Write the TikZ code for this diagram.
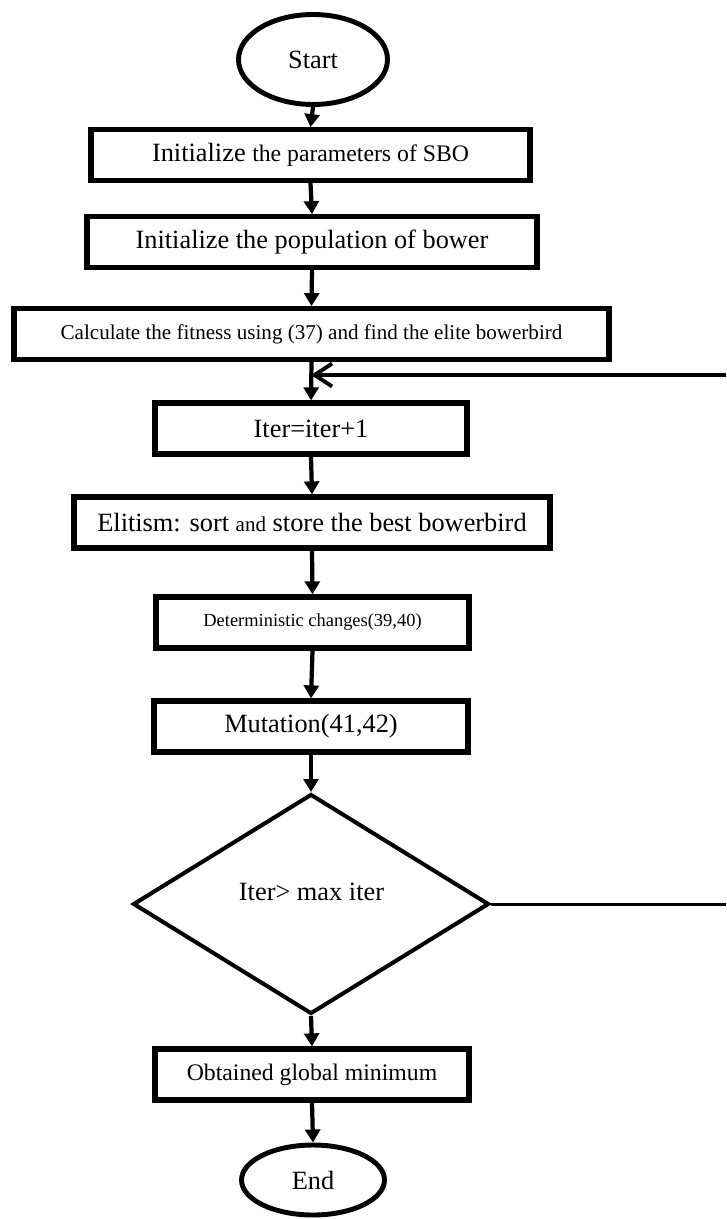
\documentclass[tikz,border=0pt]{standalone}
\usepackage{fontspec}
\setmainfont{Liberation Serif}
\usetikzlibrary{shapes.geometric,arrows.meta}

\begin{document}
\begin{tikzpicture}[x=0.02cm,y=-0.02cm,
    box/.style={draw,rectangle,line width=3pt,inner sep=0pt,minimum height=1.01cm,font=\fontsize{15}{18}\selectfont},
    term/.style={draw,ellipse,line width=2.8pt,inner sep=0pt,font=\fontsize{15}{18}\selectfont},
    flow/.style={line width=2.4pt,-{Triangle[width=8.5pt,length=7.4pt]}}]
    \useasboundingbox (0,0) rectangle (726,1219);
    % start and the set-up boxes
    \node[term,minimum width=2.98cm,minimum height=1.8cm] (S) at (313,59.5) {Start};
    \node[box,minimum width=8.78cm] (P) at (310.5,155) {Initialize {\fontsize{13.5}{16}\selectfont the parameters of SBO}};
    \node[box,minimum width=9cm] (B) at (312,242) {Initialize the population of bower};
    \node[box,minimum width=11.9cm,font=\fontsize{12}{14}\selectfont] (F) at (311.5,334) {Calculate the fitness using (37) and find the elite bowerbird};
    % main loop
    \node[box,minimum width=6.24cm,minimum height=1.02cm] (I) at (311,428.5) {Iter=iter+1};
    \node[box,minimum width=9.52cm,minimum height=1.02cm] (E) at (312,522.5) {Elitism: sort {\fontsize{12}{14}\selectfont and} store the best bowerbird};
    \node[box,minimum width=6.26cm,minimum height=1.02cm,font=\fontsize{10.5}{12}\selectfont] (D) at (312.5,622.5) {Deterministic changes(39,40)};
    \node[box,minimum width=6.28cm,minimum height=1.02cm] (M) at (311,726.5) {Mutation(41,42)};
    \node[draw,diamond,line width=2.3pt,inner sep=0pt,minimum width=7.12cm,minimum height=4.4cm] (Q) at (311,904) {};
    \node[font=\fontsize{15}{18}\selectfont] (Qt) at (311.5,892) {Iter> max iter};
    % end
    \node[box,minimum width=6.28cm,minimum height=1.02cm,font=\fontsize{13.5}{16}\selectfont] (G) at (312,1074.5) {Obtained global minimum};
    \node[term,minimum width=2.86cm,minimum height=1.4cm] (T) at (313,1180) {End};
    \draw[flow] (S.south) -- (P.north);
    \draw[flow] (P.south) -- (B.north);
    \draw[flow] (B.south) -- (F.north);
    \draw[flow] (F.south) -- (I.north);
    \draw[flow] (I.south) -- (E.north);
    \draw[flow] (E.south) -- (D.north);
    \draw[flow] (D.south) -- (M.north);
    \draw[flow] (M.south) -- (Q.north);
    \draw[flow] (Q.south) -- (G.north);
    \draw[flow] (G.south) -- (T.north);
    % back to the loop
    \coordinate (R1) at (726,375);
    \coordinate (R2) at (726,904);
    \draw[line width=1.7pt] (Q.east) -- (R2);
    \draw[line width=2.2pt,-{Straight Barb[length=10pt,width=13pt]}] (R1) -- (I.north |- R1);
\end{tikzpicture}
\end{document}
